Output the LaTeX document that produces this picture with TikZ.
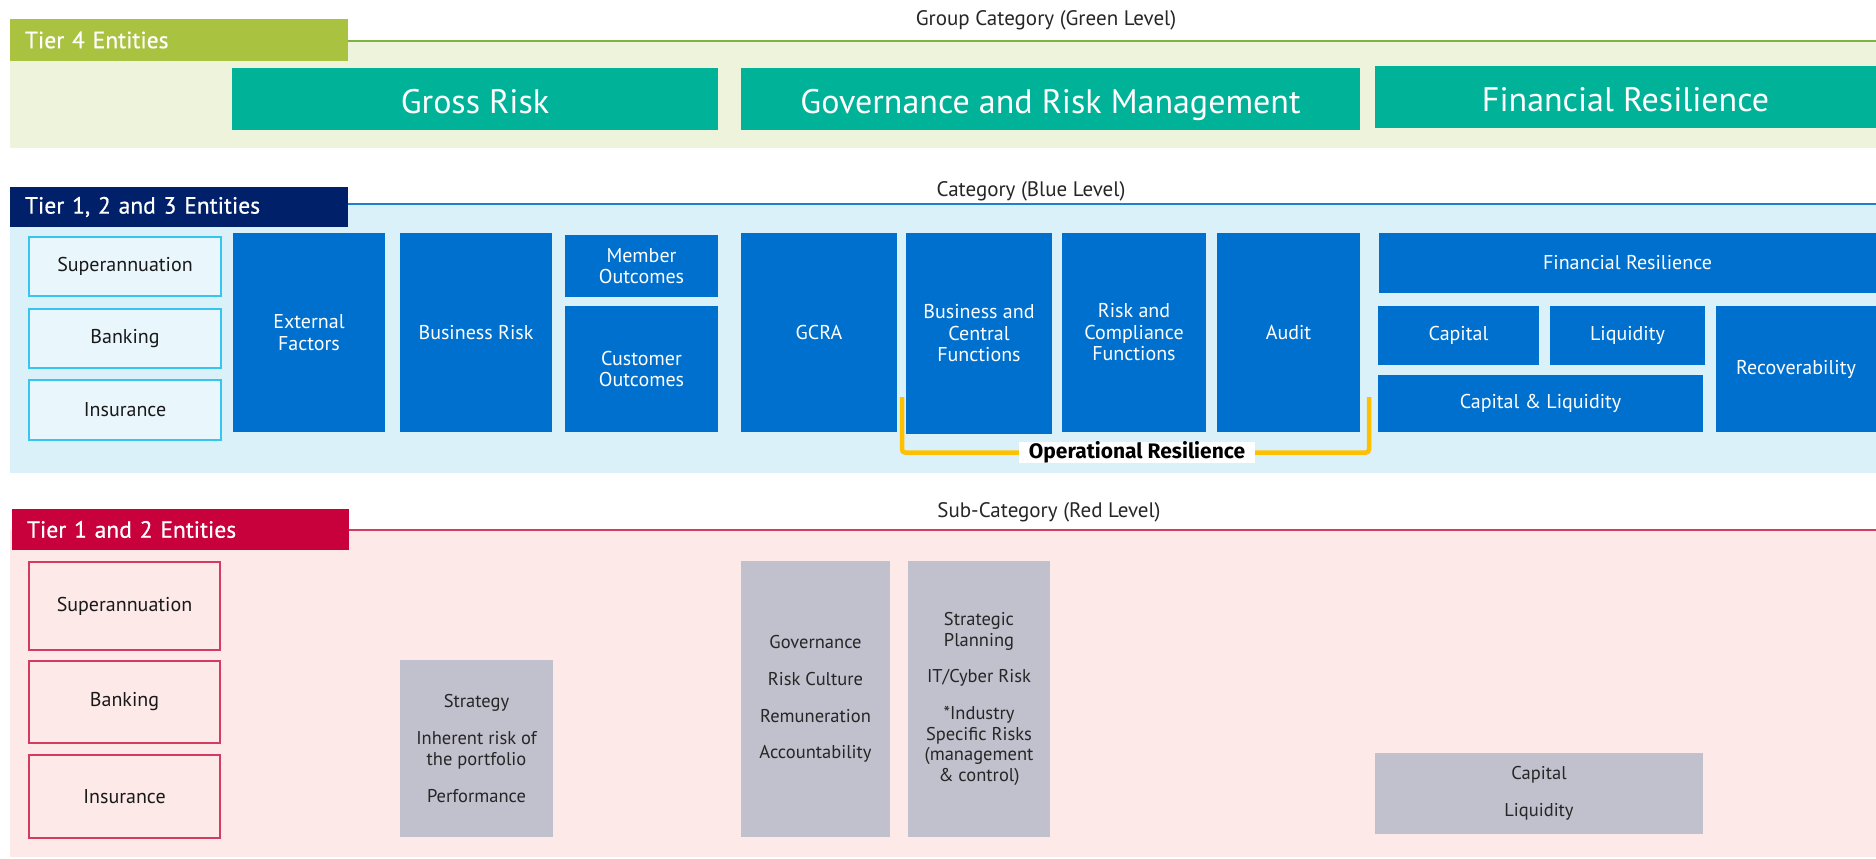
\documentclass[tikz,border=0pt]{standalone}
\usepackage{fontspec}
\setmainfont{PT Sans}
\newfontfamily\tierfam[FakeBold=0.6]{PT Sans}
\newfontfamily\opfont{Fira Sans}
\usetikzlibrary{positioning}

\definecolor{olivec}{HTML}{A9C23F}
\definecolor{gbandc}{HTML}{EEF3DC}
\definecolor{glinec}{HTML}{7FB244}
\definecolor{tealc}{HTML}{00B398}
\definecolor{navyc}{HTML}{00216A}
\definecolor{bbandc}{HTML}{DAF1FA}
\definecolor{blinec}{HTML}{1E80D2}
\definecolor{bluec}{HTML}{0070CE}
\definecolor{cyanc}{HTML}{35C5F0}
\definecolor{redc}{HTML}{C8003C}
\definecolor{rbandc}{HTML}{FCE9E8}
\definecolor{rlinec}{HTML}{D33C60}
\definecolor{greyc}{HTML}{C1C0CD}
\definecolor{yelc}{HTML}{FFC000}

\newcommand{\grpfont}{\fontsize{34}{38}\selectfont}
\newcommand{\tierfont}{\tierfam\fontsize{23.5}{26}\selectfont}
\newcommand{\boxfont}{\fontsize{20}{21.5}\selectfont}
\newcommand{\capfont}{\fontsize{21}{24}\selectfont}
\newcommand{\greyfont}{\fontsize{18.5}{20.7}\selectfont}

\tikzset{
  box/.style={anchor=north west,inner sep=0pt,outer sep=0pt,align=center,text=white,font=\boxfont},
  grp/.style={box,fill=tealc,font=\grpfont,minimum height=62pt,text height=28pt,text depth=0pt},
  cat/.style={box,fill=bluec},
  ent/.style={box,text=black!90,line width=1.5pt},
  sub/.style={box,fill=greyc,text=black!85,font=\greyfont},
  tier/.style={anchor=north west,inner ysep=0pt,inner xsep=15pt,outer sep=0pt,text width=308pt,align=left,text=white,font=\tierfont},
  lvlcap/.style={font=\capfont,text=black!85},
}

\begin{document}
\begin{tikzpicture}[x=1pt,y=-1pt]
\useasboundingbox[fill=white] (0,0) rectangle (1876,859);

% bands
\fill[gbandc] (10,41) rectangle (1876,148);
\fill[bbandc] (10,204) rectangle (1876,473);
\fill[rbandc] (10,530) rectangle (1876,857);

% group level
\node[tier,fill=olivec,minimum height=42pt] (t4) at (10,19) {Tier 4 Entities};
\coordinate (ge) at (1876,41);
\draw[glinec,line width=1.5pt] (t4.east |- ge) -- (ge);
\node[lvlcap] (grpcap) at (1046,20.5) {Group Category (Green Level)};
\node[grp,minimum width=486pt] (gross) at (232,68) {Gross Risk};
\node[grp,minimum width=619pt] (govrm) at (741,68) {Governance and Risk Management};
\node[grp,minimum width=501pt] (finres) at (1375,66) {Financial Resilience};

% category level
\node[tier,fill=navyc,minimum height=40pt] (t123) at (10,187) {Tier 1, 2 and 3 Entities};
\coordinate (be) at (1876,204);
\draw[blinec,line width=1.5pt] (t123.east |- be) -- (be);
\node[lvlcap] (catcap) at (1031,191.5) {Category (Blue Level)};

\node[ent,draw=cyanc,fill=bbandc!60,minimum width=192pt,minimum height=59pt] (bsup) at (29,237) {Superannuation};
\node[ent,draw=cyanc,fill=bbandc!60,minimum width=192pt,minimum height=59pt,below=13pt of bsup] (bbank) {Banking};
\node[ent,draw=cyanc,fill=bbandc!60,minimum width=192pt,minimum height=60pt,below=12pt of bbank] (bins) {Insurance};

\node[cat,minimum width=152pt,minimum height=199pt] (extf) at (233,233) {External\\Factors};
\node[cat,minimum width=152pt,minimum height=199pt] (busr) at (400,233) {Business Risk};
\node[cat,minimum width=153pt,minimum height=62pt] (memb) at (565,235) {Member\\Outcomes};
\node[cat,minimum width=153pt,minimum height=126pt] (cust) at (565,306) {Customer\\Outcomes};
\node[cat,minimum width=156pt,minimum height=199pt] (gcra) at (741,233) {GCRA};
\node[cat,minimum width=146pt,minimum height=201pt] (bcf) at (906,233) {Business and\\Central\\Functions};
\node[cat,minimum width=144pt,minimum height=199pt] (rcf) at (1062,233) {Risk and\\Compliance\\Functions};
\node[cat,minimum width=143pt,minimum height=199pt] (audit) at (1217,233) {Audit};
\node[cat,minimum width=497pt,minimum height=60pt] (finb) at (1379,233) {Financial Resilience};
\node[cat,minimum width=161pt,minimum height=59pt] (capb) at (1378,306) {Capital};
\node[cat,minimum width=155pt,minimum height=59pt] (liqb) at (1550,306) {Liquidity};
\node[cat,minimum width=325pt,minimum height=57pt] (cliq) at (1378,375) {Capital \& Liquidity};
\node[cat,minimum width=160pt,minimum height=126pt] (recov) at (1716,306) {Recoverability};

% operational resilience bracket
\coordinate (opl) at (902,397);
\coordinate (opr) at (1369,397);
\node[fill=white,inner sep=0pt,minimum width=236pt,minimum height=17pt,font=\opfont\fontsize{21}{22}\selectfont\bfseries] (opres) at (1137,452.5) {Operational Resilience};
\draw[yelc,line width=4.5pt,rounded corners=3pt] (opl) |- (opres.west);
\draw[yelc,line width=4.5pt,rounded corners=3pt] (opr) |- (opres.east);

% sub-category level
\node[tier,fill=redc,minimum height=41pt,text width=307pt] (t12) at (12,509) {Tier 1 and 2 Entities};
\coordinate (re) at (1876,530);
\draw[rlinec,line width=1.5pt] (t12.east |- re) -- (re);
\node[lvlcap] (subcap) at (1049,512.5) {Sub-Category (Red Level)};

\node[ent,draw=rlinec,fill=rbandc,minimum width=191pt,minimum height=88pt] (rsup) at (29,562) {Superannuation};
\node[ent,draw=rlinec,fill=rbandc,minimum width=191pt,minimum height=82pt,below=11pt of rsup] (rbank) {Banking};
\node[ent,draw=rlinec,fill=rbandc,minimum width=191pt,minimum height=83pt,below=12pt of rbank] (rins) {Insurance};

\node[sub,minimum width=153pt,minimum height=177pt] (strat) at (400,660) {Strategy\\[16pt]Inherent risk of\\the portfolio\\[16pt]Performance};
\node[sub,minimum width=149pt,minimum height=276pt] (gov) at (741,561) {Governance\\[16pt]Risk Culture\\[16pt]Remuneration\\[16pt]Accountability};
\node[sub,minimum width=142pt,minimum height=276pt] (plan) at (908,561) {Strategic\\Planning\\[16pt]IT/Cyber Risk\\[16pt]*Industry\\Specific Risks\\(management\\\& control)};
\node[sub,minimum width=328pt,minimum height=81pt] (capliq) at (1375,753) {Capital\\[16pt]Liquidity};
\end{tikzpicture}
\end{document}
